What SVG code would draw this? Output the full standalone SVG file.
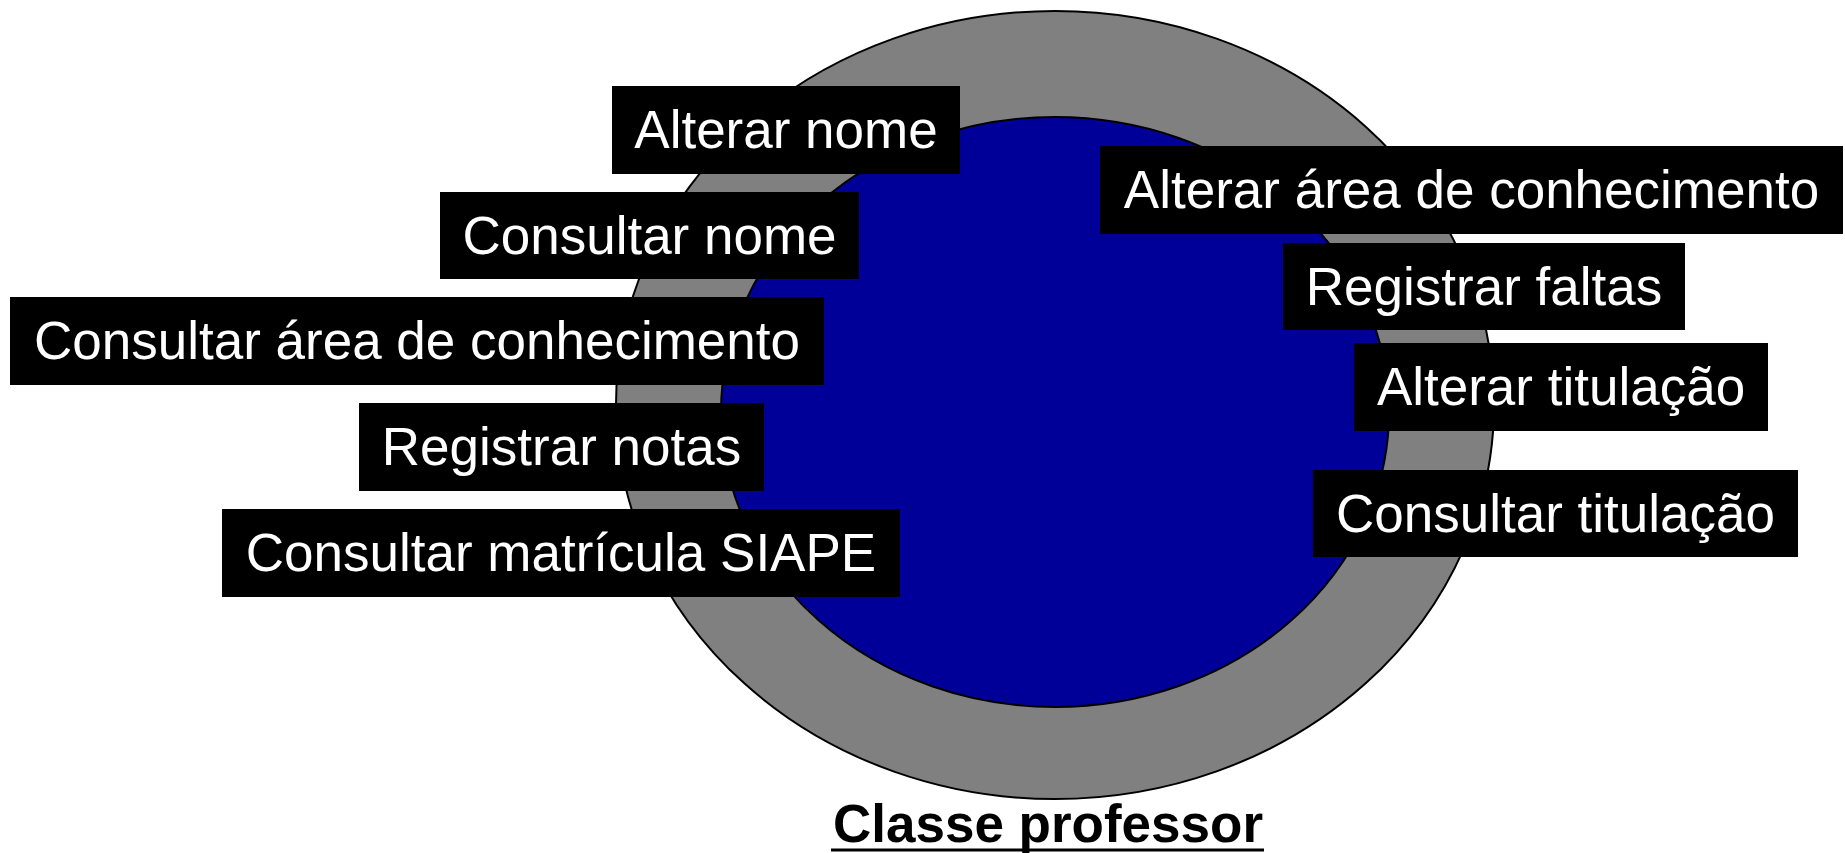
<svg xmlns="http://www.w3.org/2000/svg" width="1845" height="853" viewBox="0 0 1845 853">
<style>
.box{fill:#000000}
.lbl{fill:#ffffff;font-family:"Liberation Sans",Arial,sans-serif;font-size:53px;text-anchor:middle}
.title{fill:#000000;font-family:"Liberation Sans",Arial,sans-serif;font-size:53px;font-weight:bold;text-anchor:middle}
</style>
<rect x="0" y="0" width="1845" height="853" fill="#ffffff"/>
<g id="classe">
<ellipse cx="1055" cy="405" rx="439" ry="394" fill="#808080" stroke="#000000" stroke-width="2"/>
<ellipse cx="1055" cy="412" rx="334" ry="295" fill="#000099" stroke="#000000" stroke-width="2"/>
</g>
<g id="connectors"></g>
<g id="n1"><rect class="box" x="612" y="86" width="348" height="88"/><text class="lbl" x="786" y="148">Alterar nome</text></g>
<g id="n2"><rect class="box" x="440" y="192" width="419" height="87"/><text class="lbl" x="649.5" y="253.5">Consultar nome</text></g>
<g id="n3"><rect class="box" x="10" y="297" width="814" height="88"/><text class="lbl" x="417" y="359">Consultar área de conhecimento</text></g>
<g id="n4"><rect class="box" x="359" y="403" width="405" height="88"/><text class="lbl" x="561.5" y="465">Registrar notas</text></g>
<g id="n5"><rect class="box" x="222" y="509" width="678" height="88"/><text class="lbl" x="561" y="571">Consultar matrícula SIAPE</text></g>
<g id="n6"><rect class="box" x="1100" y="146" width="743" height="88"/><text class="lbl" x="1471.5" y="208">Alterar área de conhecimento</text></g>
<g id="n7"><rect class="box" x="1283" y="243" width="402" height="87"/><text class="lbl" x="1484" y="304.5">Registrar faltas</text></g>
<g id="n8"><rect class="box" x="1354" y="343" width="414" height="88"/><text class="lbl" x="1561" y="405">Alterar titulação</text></g>
<g id="n9"><rect class="box" x="1313" y="470" width="485" height="87"/><text class="lbl" x="1555.5" y="531.5">Consultar titulação</text></g>
<g id="title"><text class="title" x="1048" y="842">Classe professor</text><line x1="831" y1="850" x2="1264" y2="850" stroke="#000000" stroke-width="3"/></g>
</svg>
